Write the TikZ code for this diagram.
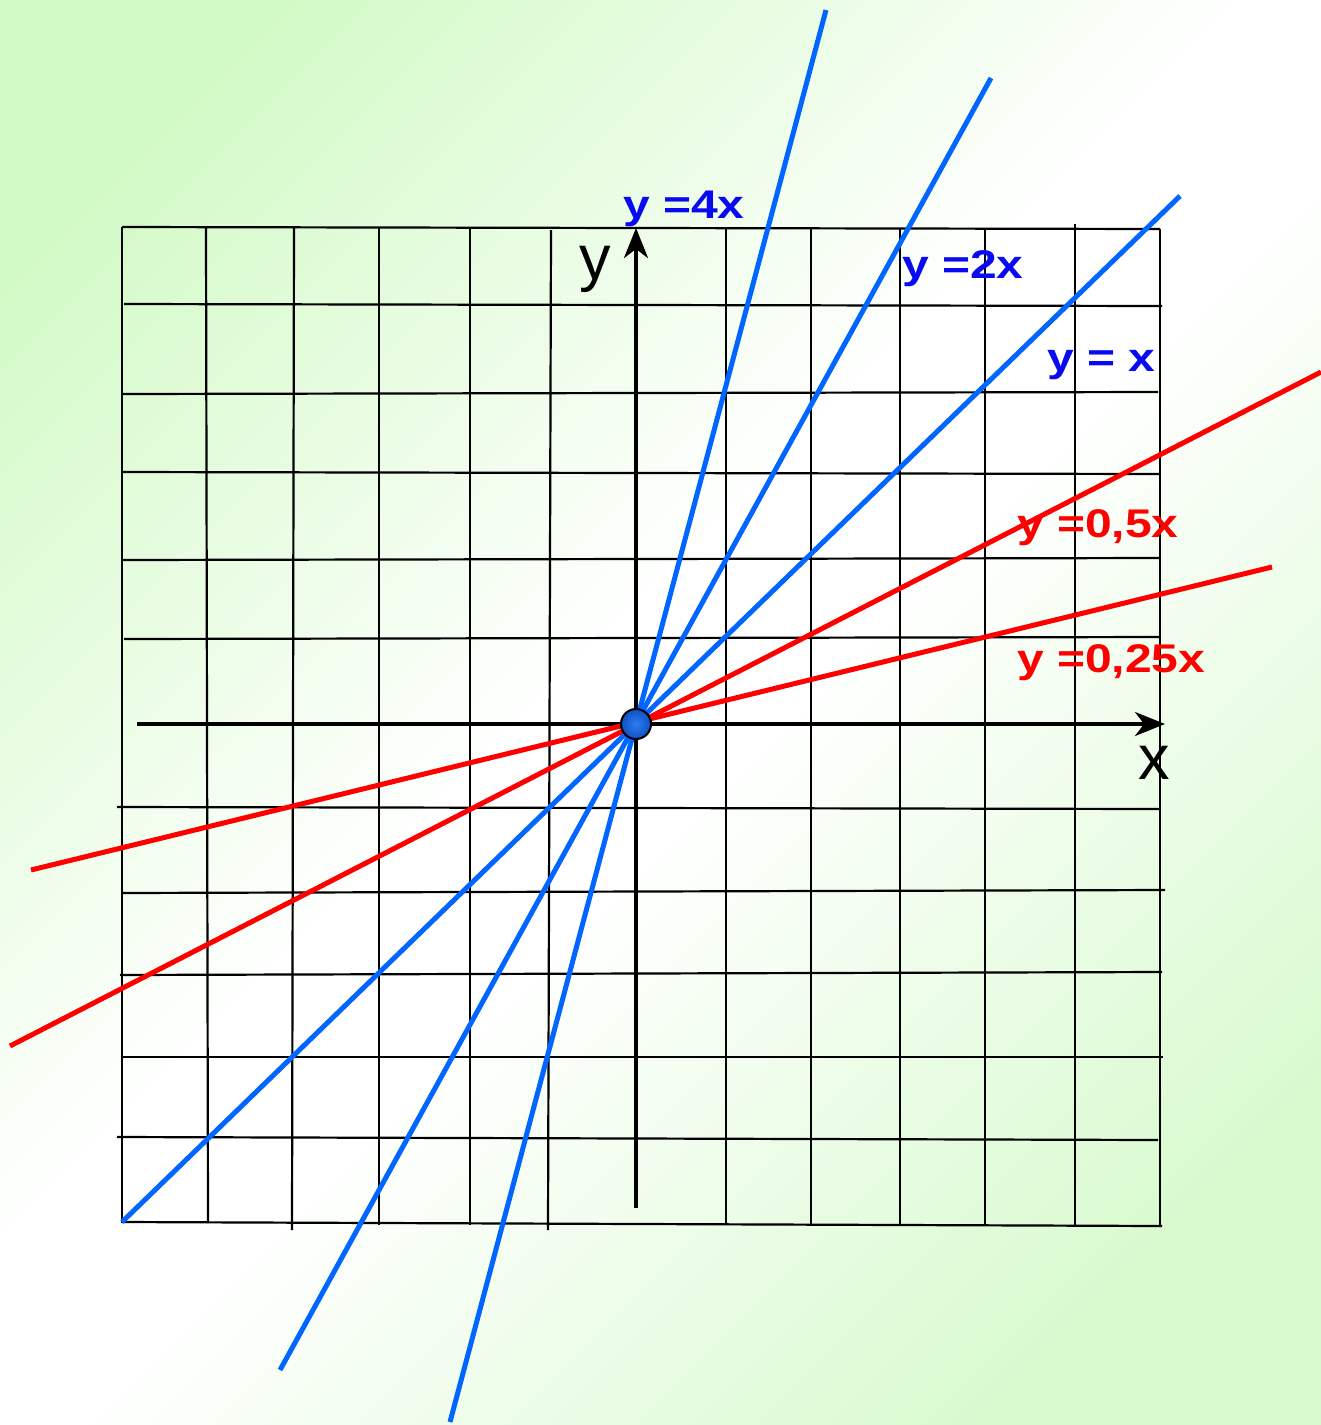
\documentclass[tikz,border=0pt]{standalone}
\usepackage{fontspec}
\setmainfont{Liberation Sans}
\newfontfamily\lblfont[FakeStretch=1.2]{Liberation Sans}
\usetikzlibrary{arrows.meta}
\definecolor{bgA}{RGB}{210,250,198}
\definecolor{bgB}{RGB}{214,250,204}
\definecolor{lineblue}{RGB}{0,102,255}
\definecolor{txtblue}{RGB}{10,10,240}
\definecolor{lred}{RGB}{255,0,0}
\definecolor{dotin}{RGB}{45,125,235}
\definecolor{dotout}{RGB}{15,80,200}
\pgfdeclareverticalshading{bgshade}{100bp}{color(0bp)=(bgB); color(22bp)=(bgB); color(47bp)=(white); color(53bp)=(white); color(78bp)=(bgA); color(100bp)=(bgA)}
\begin{document}
\begin{tikzpicture}[x=1pt,y=-1pt,
  gridline/.style={line width=2.2pt,black},
  axisline/.style={line width=3.5pt,black,-{Stealth[length=30pt,width=24pt,inset=9pt]}},
  blueline/.style={line width=5pt,lineblue},
  redline/.style={line width=5pt,lred},
  lbl/.style={anchor=base west,inner sep=0pt,font=\lblfont\bfseries\fontsize{40}{48}\selectfont},
  axlbl/.style={anchor=base,inner sep=0pt,font=\fontsize{63}{70}\selectfont}]
\useasboundingbox (0,0) rectangle (1321,1425);
\shade[shading=bgshade, shading angle=45] (0,0) rectangle (1321,1425);
% vertical grid lines
\draw[gridline] (122,227) -- (122,1223);
\draw[gridline] (206,227) -- (208,1223);
\draw[gridline] (294,227) -- (292,1230);
\draw[gridline] (379,227) -- (379,1225);
\draw[gridline] (470,227) -- (470,1225);
\draw[gridline] (551,230) -- (548,1230);
\draw[gridline] (726,228) -- (726,1225);
\draw[gridline] (811,228) -- (811,1224);
\draw[gridline] (900,228) -- (900,1226);
\draw[gridline] (985,228) -- (985,1225);
\draw[gridline] (1075,224) -- (1075,1225);
\draw[gridline] (1160,229) -- (1160,1226);
% horizontal grid lines
\draw[gridline] (122,227) -- (1160,229);
\draw[gridline] (124,304) -- (1162,306);
\draw[gridline] (122,394) -- (1158,392);
\draw[gridline] (122,472) -- (1160,474);
\draw[gridline] (122,560) -- (1160,558);
\draw[gridline] (124,639) -- (1160,637);
\draw[gridline] (117,807) -- (1160,809);
\draw[gridline] (122,893) -- (1165,890);
\draw[gridline] (120,975) -- (1162,972);
\draw[gridline] (122,1057) -- (1163,1057);
\draw[gridline] (117,1137) -- (1158,1140);
\draw[gridline] (122,1222) -- (1162,1226);
% axes
\coordinate (xs) at (137,724);
\coordinate (xe) at (1165,724);
\coordinate (ys) at (636,1208);
\coordinate (ye) at (636,228);
\draw[axisline] (xs) -- (xe);
\draw[axisline] (ys) -- (ye);
% graph lines
\coordinate (a4) at (826,10);   \coordinate (b4) at (450,1422);
\coordinate (a2) at (991,78);   \coordinate (b2) at (280,1370);
\coordinate (a1) at (1180,196); \coordinate (b1) at (122,1222);
\coordinate (ah) at (1321,372); \coordinate (bh) at (10,1046);
\coordinate (aq) at (1272,567); \coordinate (bq) at (31,870);
\draw[blueline] (a4) -- (b4);
\draw[blueline] (a2) -- (b2);
\draw[blueline] (a1) -- (b1);
\draw[redline] (ah) -- (bh);
\draw[redline] (aq) -- (bq);
% origin
\node[circle, draw=black, line width=2pt, minimum size=30pt, inner sep=0pt, inner color=dotin, outer color=dotout] (O) at (636,724) {};
% labels
\node[lbl, text=txtblue] (l4) at (623,218) {y =4x};
\node[lbl, text=txtblue] (l2) at (902,278) {y =2x};
\node[lbl, text=txtblue] (l1) at (1047,371) {y = x};
\node[lbl, text=lred] (lh) at (1017,537) {y =0,5x};
\node[lbl, text=lred] (lq) at (1017,672) {y =0,25x};
\node[axlbl] (ly) at (595,279) {y};
\node[axlbl] (lx) at (1154,779) {x};
\end{tikzpicture}
\end{document}
